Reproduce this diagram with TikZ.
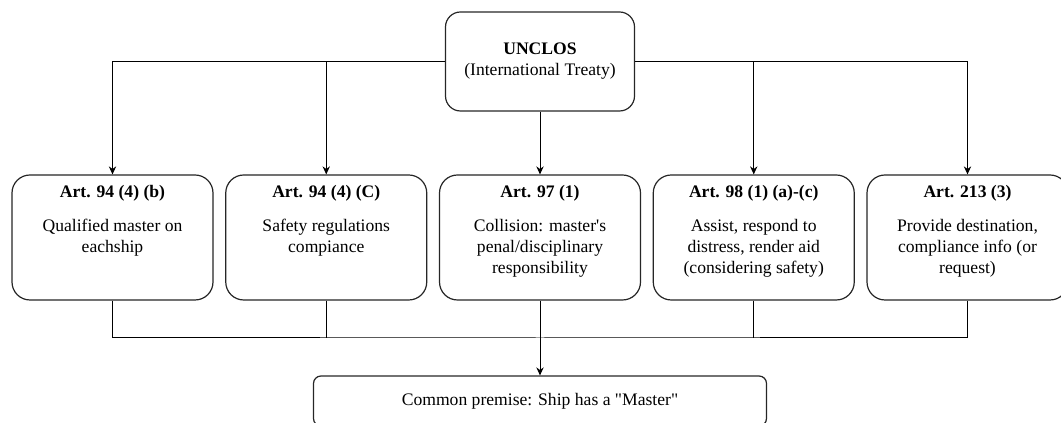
\documentclass[tikz,border=0pt]{standalone}
\usepackage{fontspec}
\setmainfont{Liberation Serif}[Ligatures=TeXOff]
\usetikzlibrary{arrows.meta}

\begin{document}
\begin{tikzpicture}[x=0.75pt,y=-0.75pt,>={Stealth[length=6pt,width=5.5pt]},
  line width=0.75pt,font=\fontsize{13.2pt}{15.75pt}\selectfont,
  artbox/.style={draw=black!85,line width=0.9pt,fill=white,rounded corners=13.5pt,
    minimum width=150.75pt,minimum height=93.75pt,inner sep=0pt},
  arttext/.style={align=center,inner sep=0pt,anchor=north,yshift=-8.1pt}]
  \clip (0,0) rectangle (1061,423);
  % treaty on top
  \node[draw=black!85,line width=0.9pt,rounded corners=11.25pt,minimum width=141.75pt,
    minimum height=74.25pt,align=center] (unclos) at (540,61.5)
    {\textbf{UNCLOS}\\(International Treaty)};
  % the five articles
  \node[artbox] (a1) at (112.5,237.5) {};
  \node[artbox] (a2) at (326.25,237.5) {};
  \node[artbox] (a3) at (540,237.5) {};
  \node[artbox] (a4) at (753.75,237.5) {};
  \node[artbox] (a5) at (967.5,237.5) {};
  \node[arttext] (t1) at (a1.north) {\textbf{Art. 94 (4) (b)}\\[9.75pt]Qualified master on\\eachship};
  \node[arttext] (t2) at (a2.north) {\textbf{Art. 94 (4) (C)}\\[9.75pt]Safety regulations\\compiance};
  \node[arttext] (t3) at (a3.north) {\textbf{Art. 97 (1)}\\[9.75pt]Collision: master's\\penal/disciplinary\\responsibility};
  \node[arttext] (t4) at (a4.north) {\textbf{Art. 98 (1) (a)-(c)}\\[9.75pt]Assist, respond to\\distress, render aid\\(considering safety)};
  \node[arttext] (t5) at (a5.north) {\textbf{Art. 213 (3)}\\[9.75pt]Provide destination,\\compliance info (or\\request)};
  % premise below, cut by the page
  \node[draw=black!85,line width=0.9pt,rounded corners=5.6pt,minimum width=339.75pt,
    minimum height=37.5pt] (premise) at (540,401) {Common premise: Ship has a "Master"};
  % top connectors
  \draw[->] (unclos.west) -| (a1.north);
  \draw[->] (unclos.east) -| (a5.north);
  \draw[->] (a2.north |- unclos.west) -- (a2.north);
  \draw[->] (a4.north |- unclos.east) -- (a4.north);
  \draw[->] (unclos.south) -- (a3.north);
  % bottom bus
  \coordinate (bus) at (540,338);
  \draw (a1.south) |- (bus) -| (a5.south);
  \draw (a2.south) -- (a2.south |- bus);
  \draw (a4.south) -- (a4.south |- bus);
  \draw[->] (a3.south) -- (premise.north);
\end{tikzpicture}
\end{document}
